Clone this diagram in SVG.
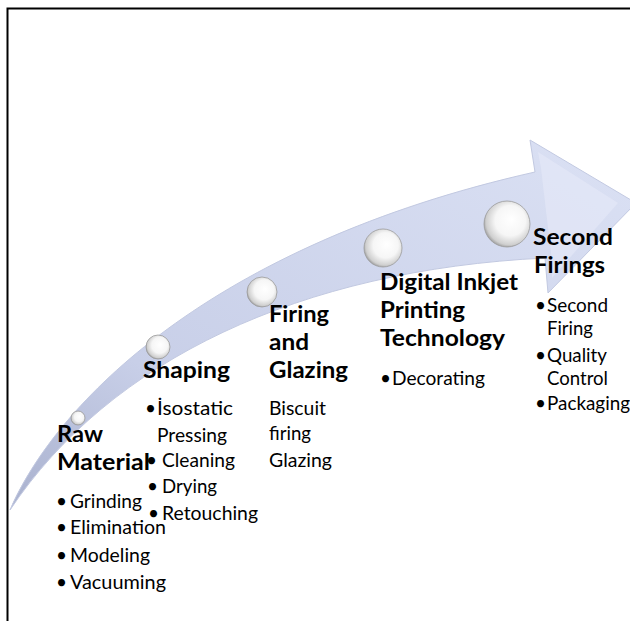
<svg xmlns="http://www.w3.org/2000/svg" width="630" height="621" viewBox="0 0 630 621">
  <defs>
    <linearGradient id="shaftFill" x1="0" y1="1" x2="1" y2="0">
      <stop offset="0" stop-color="#a9b1ce"/>
      <stop offset="0.3" stop-color="#c8cfe8"/>
      <stop offset="1" stop-color="#dbe1f4"/>
    </linearGradient>
    <radialGradient id="pearl" cx="0.55" cy="0.45" r="0.6" fx="0.6" fy="0.4">
      <stop offset="0" stop-color="#ffffff"/>
      <stop offset="0.55" stop-color="#f6f6f6"/>
      <stop offset="0.85" stop-color="#cfcfcf"/>
      <stop offset="1" stop-color="#8a8a8a"/>
    </radialGradient>
    <style>
      .h { font-family: Lato, "Liberation Sans", sans-serif; font-weight: bold; font-size: 23px; fill: #000; }
      .t { font-family: Lato, "Liberation Sans", sans-serif; font-size: 19px; fill: #000; }
      .pearl { fill: url(#pearl); stroke: #9a9a9a; stroke-width: 0.8; }
      .frame { stroke: #000; stroke-width: 2; fill: none; }
    </style>
  </defs>

  <rect width="630" height="621" fill="#ffffff"/>
  <!-- page frame: left and top rules -->
  <path class="frame" d="M7.5,621 V8.5 H630"/>

  <!-- curved process arrow -->
  <g id="connectors">
    <path d="M10,510 C55,405 210,245 535,172 L530,140 L636,203 L548,293 L545,258 C300,270 110,360 10,510 Z"
          fill="url(#shaftFill)" stroke="#c2c9e1" stroke-width="1"/>
    <!-- bevel highlight on the head -->
    <path d="M541,168 L538,152 L618,203 L552,278 L552,262 Z" fill="#e6eaf8" opacity="0.6"/>
  </g>

  <g id="raw-material">
    <circle class="pearl" cx="78" cy="418" r="7"/>
    <text class="h" x="57" y="442" textLength="46" lengthAdjust="spacingAndGlyphs">Raw</text>
    <text class="h" x="57" y="470" textLength="93" lengthAdjust="spacingAndGlyphs">Material</text>
    <text class="t" x="56" y="508">•</text>
    <text class="t" x="70" y="508" textLength="72" lengthAdjust="spacingAndGlyphs">Grinding</text>
    <text class="t" x="56" y="534">•</text>
    <text class="t" x="70" y="534" textLength="96" lengthAdjust="spacingAndGlyphs">Elimination</text>
    <text class="t" x="56" y="562">•</text>
    <text class="t" x="70" y="562" textLength="80" lengthAdjust="spacingAndGlyphs">Modeling</text>
    <text class="t" x="56" y="589">•</text>
    <text class="t" x="70" y="589" textLength="96" lengthAdjust="spacingAndGlyphs">Vacuuming</text>
  </g>

  <g id="shaping">
    <circle class="pearl" cx="158" cy="347" r="12"/>
    <text class="h" x="143" y="378" textLength="87" lengthAdjust="spacingAndGlyphs">Shaping</text>
    <text class="t" x="145" y="415">•</text>
    <text class="t" x="157" y="415" textLength="76" lengthAdjust="spacingAndGlyphs">İsostatic</text>
    <text class="t" x="157" y="442" textLength="70" lengthAdjust="spacingAndGlyphs">Pressing</text>
    <text class="t" x="146" y="467">•</text>
    <text class="t" x="162" y="467" textLength="73" lengthAdjust="spacingAndGlyphs">Cleaning</text>
    <text class="t" x="147" y="493">•</text>
    <text class="t" x="162" y="493" textLength="55" lengthAdjust="spacingAndGlyphs">Drying</text>
    <text class="t" x="148" y="520">•</text>
    <text class="t" x="162" y="520" textLength="96" lengthAdjust="spacingAndGlyphs">Retouching</text>
  </g>

  <g id="firing-glazing">
    <circle class="pearl" cx="262" cy="292" r="15"/>
    <text class="h" x="269" y="322" textLength="60" lengthAdjust="spacingAndGlyphs">Firing</text>
    <text class="h" x="269" y="350" textLength="40" lengthAdjust="spacingAndGlyphs">and</text>
    <text class="h" x="269" y="378" textLength="79" lengthAdjust="spacingAndGlyphs">Glazing</text>
    <text class="t" x="269" y="415" textLength="57" lengthAdjust="spacingAndGlyphs">Biscuit</text>
    <text class="t" x="269" y="440" textLength="42" lengthAdjust="spacingAndGlyphs">firing</text>
    <text class="t" x="269" y="467" textLength="63" lengthAdjust="spacingAndGlyphs">Glazing</text>
  </g>

  <g id="digital-inkjet">
    <circle class="pearl" cx="383" cy="248" r="19"/>
    <text class="h" x="380" y="290" textLength="138" lengthAdjust="spacingAndGlyphs">Digital Inkjet</text>
    <text class="h" x="380" y="318" textLength="85" lengthAdjust="spacingAndGlyphs">Printing</text>
    <text class="h" x="380" y="346" textLength="125" lengthAdjust="spacingAndGlyphs">Technology</text>
    <text class="t" x="380" y="385">•</text>
    <text class="t" x="392" y="385" textLength="93" lengthAdjust="spacingAndGlyphs">Decorating</text>
  </g>

  <g id="second-firings">
    <circle class="pearl" cx="507" cy="224" r="23"/>
    <text class="h" x="533" y="245" textLength="80" lengthAdjust="spacingAndGlyphs">Second</text>
    <text class="h" x="534" y="273" textLength="71" lengthAdjust="spacingAndGlyphs">Firings</text>
    <text class="t" x="535" y="312">•</text>
    <text class="t" x="547" y="312" textLength="61" lengthAdjust="spacingAndGlyphs">Second</text>
    <text class="t" x="547" y="335" textLength="46" lengthAdjust="spacingAndGlyphs">Firing</text>
    <text class="t" x="535" y="362">•</text>
    <text class="t" x="547" y="362" textLength="60" lengthAdjust="spacingAndGlyphs">Quality</text>
    <text class="t" x="547" y="385" textLength="61" lengthAdjust="spacingAndGlyphs">Control</text>
    <text class="t" x="535" y="410">•</text>
    <text class="t" x="547" y="410" textLength="83" lengthAdjust="spacingAndGlyphs">Packaging</text>
  </g>
</svg>
